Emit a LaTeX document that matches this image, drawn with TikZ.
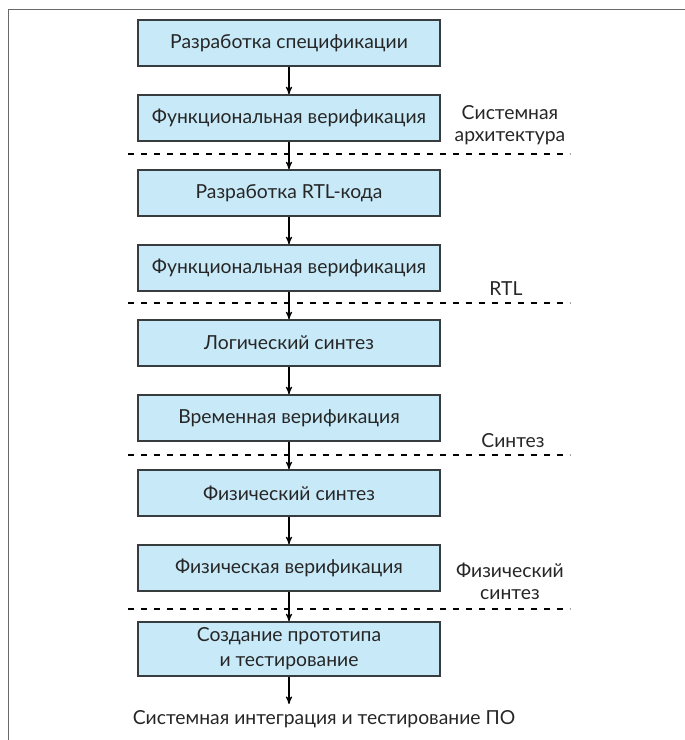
\documentclass[tikz,border=0pt]{standalone}
\usepackage{fontspec}
\setmainfont{Lato}
\usepackage{tikz}
\usetikzlibrary{
        arrows,
        positioning,
        shapes
    }
\definecolor{boxfill}{RGB}{200,234,248}
\definecolor{boxline}{RGB}{55,60,62}
\definecolor{framegray}{RGB}{105,105,105}
\tikzset{>=stealth',node distance=1.5cm}
\tikzset{
    stage/.style={draw=boxline,line width=0.8pt,fill=boxfill,minimum width=6.04cm,
        minimum height=0.92cm,align=center,font=\fontsize{11}{14}\selectfont,text=black!85},
    level/.style={align=center,font=\fontsize{11}{12.5}\selectfont,text=black!85,anchor=south,inner sep=2pt},
    sep/.style={dash pattern=on 0.12cm off 0.14cm,line width=1.2pt},
    frameline/.style={draw=framegray,line width=1.1pt}
}

\begin{document}
\begin{tikzpicture}[x=0.02cm,y=-0.02cm]
                        \useasboundingbox (0,0) rectangle (685,740);
                        % frame
                        \draw[frameline] (8.5,740) -- (8.5,9.5) -- (685,9.5);
                        \node[stage] (spec)                    at (289,43) {Разработка спецификации};
                        \node[stage] (fv1)  [below of=spec]    {Функциональная верификация};
                        \node[stage] (rtl)  [below of=fv1]     {Разработка RTL-кода};
                        \node[stage] (fv2)  [below of=rtl]     {Функциональная верификация};
                        \node[stage] (syn)  [below of=fv2]     {Логический синтез};
                        \node[stage] (tv)   [below of=syn]     {Временная верификация};
                        \node[stage] (phys) [below of=tv]      {Физический синтез};
                        \node[stage] (pv)   [below of=phys]    {Физическая верификация};
                        \node[stage,minimum height=1.08cm] (proto) [below of=pv,node distance=1.62cm]
                            {Создание прототипа\\и тестирование};
                        \node[font=\fontsize{11}{14}\selectfont,text=black!85] (integ) [below of=proto,node distance=1.4cm,xshift=0.7cm]
                            {Системная интеграция и тестирование ПО};
                        % level borders
                        \coordinate (s1) at ([yshift=-0.24cm]fv1.south);
                        \coordinate (s2) at ([yshift=-0.22cm]fv2.south);
                        \coordinate (s3) at ([yshift=-0.26cm]tv.south);
                        \coordinate (s4) at ([yshift=-0.34cm]pv.south);
                        \foreach \s in {s1,s2,s3,s4}
                            \draw[sep] ([xshift=-3.22cm]\s) -- ([xshift=5.62cm]\s);
                        \node[level] (l1) at ([xshift=4.42cm,yshift=0.1cm]s1) {Системная\\архитектура};
                        \node[level] (l2) at ([xshift=4.34cm,yshift=0.06cm]s2) {RTL};
                        \node[level] (l3) at ([xshift=4.48cm,yshift=0.06cm]s3) {Синтез};
                        \node[level] (l4) at ([xshift=4.42cm,yshift=0.1cm]s4) {Физический\\синтез};
                        \path[->,line width=0.6pt]
                            (spec)  edge (fv1)
                            (fv1)   edge (rtl)
                            (rtl)   edge (fv2)
                            (fv2)   edge (syn)
                            (syn)   edge (tv)
                            (tv)    edge (phys)
                            (phys)  edge (pv)
                            (pv)    edge (proto)
                            (proto) edge (proto.south |- integ.north);
                    \end{tikzpicture}
\end{document}
